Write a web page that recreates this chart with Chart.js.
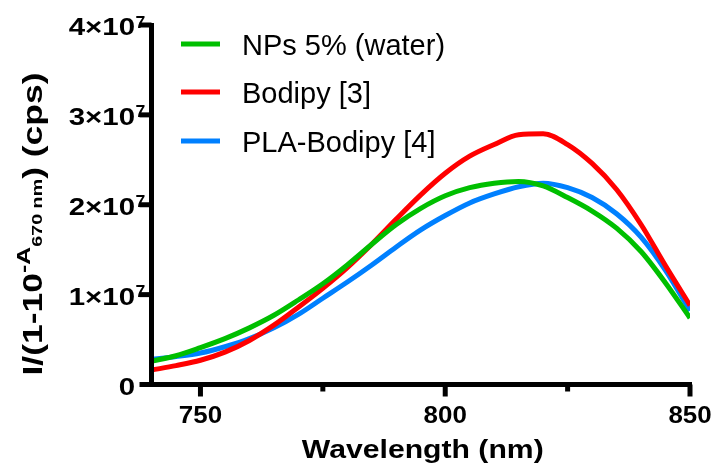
<!DOCTYPE html>
<html>
<head>
<meta charset="utf-8">
<script src="https://cdn.jsdelivr.net/npm/chart.js@4.4.0/dist/chart.umd.min.js"></script>
<style>
  html, body { margin: 0; padding: 0; background: #fff; }
</style>
</head>
<body>
<canvas id="spectra" width="715" height="472"></canvas>
<script>
// emission spectra, intensity in units of 10^7 cps
const wavelengths = [740, 745, 750, 755, 760, 765, 770, 775, 780, 785, 790, 795, 800, 805, 810, 815, 820, 825, 830, 835, 840, 845, 850];
const npsWater = [0.26, 0.32, 0.41, 0.51, 0.63, 0.77, 0.94, 1.12, 1.33, 1.56, 1.78, 1.96, 2.10, 2.19, 2.24, 2.26, 2.21, 2.08, 1.93, 1.74, 1.48, 1.13, 0.74];
const bodipy = [0.16, 0.21, 0.27, 0.36, 0.49, 0.66, 0.86, 1.07, 1.30, 1.56, 1.84, 2.11, 2.35, 2.54, 2.67, 2.78, 2.79, 2.67, 2.46, 2.17, 1.78, 1.32, 0.88];
const plaBodipy = [0.28, 0.31, 0.35, 0.42, 0.51, 0.63, 0.78, 0.96, 1.14, 1.33, 1.53, 1.72, 1.88, 2.02, 2.12, 2.20, 2.24, 2.19, 2.08, 1.90, 1.64, 1.27, 0.82];

const seriesNames = ['NPs 5% (water)', 'Bodipy [3]', 'PLA-Bodipy [4]'];
const seriesColors = ['#00bf00', '#ff0000', '#0080ff'];

const xTicks = [750, 775, 800, 825, 850];
const xTickLabels = ['750', '', '800', '', '850'];
const yTicks = [0, 1, 2, 3, 4];
const yTickLabels = ['0', '1×10^7', '2×10^7', '3×10^7', '4×10^7'];

const FONT = '"Liberation Sans", Arial, sans-serif';

function toPoints(vals) {
  return wavelengths.map((w, i) => ({ x: w, y: vals[i] }));
}

// draw text stretched along its direction
function stretchedText(ctx, txt, x, y, sx) {
  ctx.save();
  ctx.translate(x, y);
  ctx.scale(sx, 1);
  ctx.fillText(txt, 0, 0);
  ctx.restore();
}

const decor = {
  id: 'decor',
  afterDraw(chart) {
    const { ctx, chartArea: a, scales } = chart;
    const xs = scales.x, ys = scales.y;
    ctx.save();
    ctx.strokeStyle = '#000';
    ctx.fillStyle = '#000';
    ctx.lineWidth = 5;

    // axis lines
    ctx.beginPath();
    ctx.moveTo(a.left, a.top - 2);
    ctx.lineTo(a.left, a.bottom + 2.5);
    ctx.moveTo(a.left - 2.5, a.bottom);
    ctx.lineTo(a.right + 2, a.bottom);
    ctx.stroke();

    // y ticks + labels
    yTicks.forEach((v, i) => {
      const py = ys.getPixelForValue(v);
      ctx.beginPath();
      ctx.moveTo(a.left - 12, py);
      ctx.lineTo(a.left, py);
      ctx.stroke();
      const [base, sup] = yTickLabels[i].split('^');
      const sx = 1.28;
      ctx.font = 'bold 23px ' + FONT;
      ctx.textBaseline = 'alphabetic';
      ctx.textAlign = 'left';
      const w = ctx.measureText(base).width * sx;
      const right = 135;
      stretchedText(ctx, base, right - w, py + 10, sx);
      if (sup) {
        ctx.font = 'bold 16px ' + FONT;
        stretchedText(ctx, sup, right + 0.5, py + 2.5, 1.1);
      }
    });

    // x ticks + labels
    xTicks.forEach((v, i) => {
      const px = xs.getPixelForValue(v);
      const major = xTickLabels[i] !== '';
      ctx.beginPath();
      ctx.moveTo(px, a.bottom);
      ctx.lineTo(px, a.bottom + (major ? 12 : 7));
      ctx.stroke();
      if (major) {
        const sx = 1.08;
        ctx.font = 'bold 24px ' + FONT;
        const w = ctx.measureText(xTickLabels[i]).width * sx;
        stretchedText(ctx, xTickLabels[i], px - w / 2, 423, sx);
      }
    });

    // x title
    ctx.font = 'bold 26px ' + FONT;
    const xt = 'Wavelength (nm)';
    const xsx = 1.16;
    const xw = ctx.measureText(xt).width * xsx;
    stretchedText(ctx, xt, (a.left + a.right) / 2 - xw / 2 + 2, 458, xsx);

    // y title with super/subscripts, rotated
    const parts = [
      { t: 'I/(1-10', size: 27, dy: 0 },
      { t: '-A', size: 19, dy: -12 },
      { t: '670 nm', size: 15, dy: 0 },
      { t: ') (cps)', size: 27, dy: 0 }
    ];
    let total = 0;
    parts.forEach(p => {
      ctx.font = 'bold ' + p.size + 'px ' + FONT;
      p.w = ctx.measureText(p.t).width;
      total += p.w;
    });
    const len = 303;
    const k = len / total;
    ctx.save();
    ctx.translate(42, 224 + len / 2);
    ctx.rotate(-Math.PI / 2);
    ctx.scale(k, 1);
    let cx = 0;
    parts.forEach(p => {
      ctx.font = 'bold ' + p.size + 'px ' + FONT;
      ctx.fillText(p.t, cx, p.dy);
      cx += p.w;
    });
    ctx.restore();

    // legend
    const legendY = [44, 92, 141];
    chart.data.datasets.forEach((ds, i) => {
      ctx.strokeStyle = ds.borderColor;
      ctx.lineWidth = 5;
      ctx.beginPath();
      ctx.moveTo(181, legendY[i]);
      ctx.lineTo(220, legendY[i]);
      ctx.stroke();
      ctx.fillStyle = '#000';
      ctx.font = '29px ' + FONT;
      ctx.textAlign = 'left';
      ctx.fillText(ds.label, 242, legendY[i] + 11);
    });

    ctx.restore();
  }
};

const seriesValues = [npsWater, bodipy, plaBodipy];

new Chart(document.getElementById('spectra'), {
  type: 'line',
  data: {
    datasets: seriesValues.map((vals, i) => ({
      label: seriesNames[i],
      data: toPoints(vals),
      borderColor: seriesColors[i],
      borderWidth: 5,
      pointRadius: 0,
      cubicInterpolationMode: 'monotone',
      fill: false
    }))
  },
  options: {
    responsive: false,
    animation: false,
    layout: { padding: { top: 25, right: 25, left: 0, bottom: 0 } },
    plugins: { legend: { display: false }, tooltip: { enabled: false } },
    scales: {
      x: {
        type: 'linear',
        min: 740,
        max: 850,
        grid: { display: false },
        border: { display: false },
        ticks: { display: false },
        afterBuildTicks: s => { s.ticks = xTicks.map(v => ({ value: v })); },
        afterFit: s => { s.height = 87.5; }
      },
      y: {
        min: 0,
        max: 4,
        grid: { display: false },
        border: { display: false },
        ticks: { display: false },
        afterBuildTicks: s => { s.ticks = yTicks.map(v => ({ value: v })); },
        afterFit: s => { s.width = 151.5; }
      }
    }
  },
  plugins: [decor]
});
</script>
</body>
</html>
